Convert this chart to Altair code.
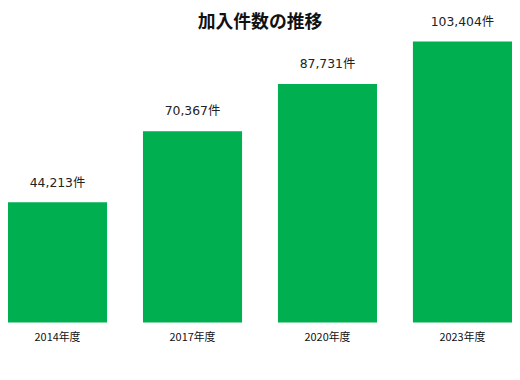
import altair as alt
import pandas as pd

years = ["2014年度", "2017年度", "2020年度", "2023年度"]
counts = [44213, 70367, 87731, 103404]
labels = ["44,213件", "70,367件", "87,731件", "103,404件"]
title_text = ["加入件数の推移"]

df = pd.DataFrame({"year": years, "count": counts, "label": labels})

CJK = "Noto Sans CJK JP"
VAL = "DejaVu Sans, Noto Sans CJK JP"

x = alt.X("year:N", sort=years, title=None,
          scale=alt.Scale(paddingInner=0.266, paddingOuter=0),
          axis=alt.Axis(labelAngle=0, domain=False, ticks=False, labelPadding=9,
                        labelFontSize=11, labelColor="#111", labelFont=CJK))
y = alt.Y("count:Q", scale=alt.Scale(domain=[0, 107043], nice=False), axis=None)

bars = alt.Chart(df).mark_bar(color="#00B050").encode(x=x, y=y)
text = alt.Chart(df).mark_text(dy=-20, baseline="middle", fontSize=12.5, color="#222", font=VAL).encode(
    x=alt.X("year:N", sort=years), y=y, text="label:N")
title = alt.Chart(pd.DataFrame({"t": title_text})).mark_text(
    fontSize=18, fontWeight="bold", font=CJK, color="#111", baseline="top", align="center"
).encode(x=alt.value(254.5), y=alt.value(-18), text="t:N")

chart = (bars + text + title).properties(
    width=509, height=294,
    padding={"top": 22, "left": 0, "right": 0, "bottom": 30},
    autosize=alt.AutoSizeParams(type="none"),
).configure_view(stroke=None)

chart.save("out.html", embed_options={"renderer": "svg", "actions": False})
